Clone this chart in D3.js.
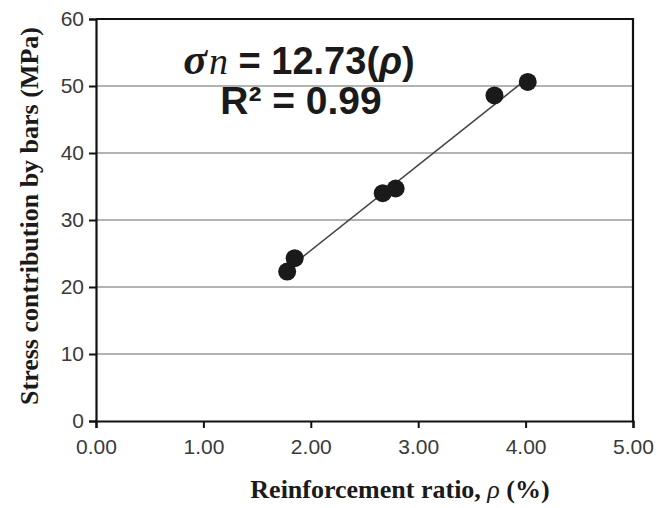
<!DOCTYPE html>
<html>
<head>
<meta charset="utf-8">
<script src="https://cdn.jsdelivr.net/npm/d3@7"></script>
<style>
  body { margin: 0; background: #fff; }
  svg { display: block; }
</style>
</head>
<body>
<div id="chart"></div>
<script>
// data
const ratio = [1.78, 1.85, 2.67, 2.79, 3.71, 4.02];
const stress = [22.3, 24.3, 34.0, 34.7, 48.6, 50.6];
const slope = 12.73;
const xTicks = [0, 1, 2, 3, 4, 5];
const yTicks = [0, 10, 20, 30, 40, 50, 60];

const width = 657, height = 508;
const margin = { top: 19, right: 24, bottom: 87, left: 96 };

const svg = d3.select("#chart").append("svg")
    .attr("width", width)
    .attr("height", height);

const x = d3.scaleLinear().domain([0, 5]).range([margin.left, width - margin.right]);
const y = d3.scaleLinear().domain([0, 60]).range([height - margin.bottom, margin.top]);

// horizontal grid
svg.append("g")
    .selectAll("line")
    .data(yTicks.slice(1, -1))
    .join("line")
    .attr("x1", x(0)).attr("x2", x(5))
    .attr("y1", d => y(d)).attr("y2", d => y(d))
    .attr("stroke", "#9a9a9a")
    .attr("stroke-width", 1.6);

// frame (top + right)
svg.append("path")
    .attr("d", `M${x(0)},${y(60)}H${x(5)}V${y(0)}`)
    .attr("fill", "none")
    .attr("stroke", "#111")
    .attr("stroke-width", 2.2);

// axes
const xAxis = svg.append("g")
    .attr("transform", `translate(0,${y(0)})`)
    .call(d3.axisBottom(x).tickValues(xTicks).tickFormat(d3.format(".2f")).tickSize(7).tickPadding(6));
const yAxis = svg.append("g")
    .attr("transform", `translate(${x(0)},0)`)
    .call(d3.axisLeft(y).tickValues(yTicks).tickSize(7).tickPadding(5));

[xAxis, yAxis].forEach(g => {
    g.select(".domain").attr("stroke", "#111").attr("stroke-width", 2.2);
    g.selectAll(".tick line").attr("stroke", "#111").attr("stroke-width", 2);
    g.selectAll(".tick text")
        .attr("fill", "#3a3a3a")
        .style("font-family", "'Liberation Sans', Arial, sans-serif")
        .style("font-size", "21px");
});
xAxis.selectAll(".tick text").attr("dy", "0.95em");

// trend line
const xs = d3.extent(ratio);
svg.append("line")
    .attr("x1", x(xs[0])).attr("y1", y(slope * xs[0]))
    .attr("x2", x(xs[1])).attr("y2", y(slope * xs[1]))
    .attr("stroke", "#444")
    .attr("stroke-width", 1.5);

// points
svg.append("g")
    .selectAll("circle")
    .data(ratio)
    .join("circle")
    .attr("cx", d => x(d))
    .attr("cy", (d, i) => y(stress[i]))
    .attr("r", 9)
    .attr("fill", "#1a1a1a");

// equation
const eq = svg.append("text")
    .attr("x", 299).attr("y", 74)
    .attr("text-anchor", "middle")
    .style("font-family", "'Liberation Sans', Arial, sans-serif")
    .style("font-weight", "bold")
    .style("font-size", "38px")
    .attr("fill", "#1a1a1a");
eq.append("tspan").text("σ")
    .style("font-family", "'Liberation Serif', serif").style("font-style", "italic").style("font-size", "44px");
eq.append("tspan").text("n").attr("dx", 2)
    .style("font-family", "'Liberation Serif', serif").style("font-style", "italic").style("font-weight", "normal").style("font-size", "38px");
eq.append("tspan").text(" = 12.73(");
eq.append("tspan").text("ρ").style("font-style", "italic");
eq.append("tspan").text(")");

svg.append("text")
    .attr("x", 301).attr("y", 114)
    .attr("text-anchor", "middle")
    .style("font-family", "'Liberation Sans', Arial, sans-serif")
    .style("font-weight", "bold")
    .style("font-size", "39px")
    .attr("fill", "#1a1a1a")
    .text("R² = 0.99");

// axis titles
svg.append("text")
    .attr("transform", `translate(38,${(y(0) + y(60)) / 2 - 4}) rotate(-90)`)
    .attr("text-anchor", "middle")
    .style("font-family", "'Liberation Serif', 'Times New Roman', serif")
    .style("font-weight", "bold")
    .style("font-size", "26px")
    .attr("fill", "#1a1a1a")
    .text("Stress contribution by bars (MPa)");

svg.append("text")
    .attr("x", 400).attr("y", 498)
    .attr("text-anchor", "middle")
    .style("font-family", "'Liberation Serif', 'Times New Roman', serif")
    .style("font-weight", "bold")
    .style("font-size", "26px")
    .attr("fill", "#1a1a1a")
    .html("Reinforcement ratio, <tspan font-style='italic' font-weight='normal'>ρ</tspan> (%)");
</script>
</body>
</html>
